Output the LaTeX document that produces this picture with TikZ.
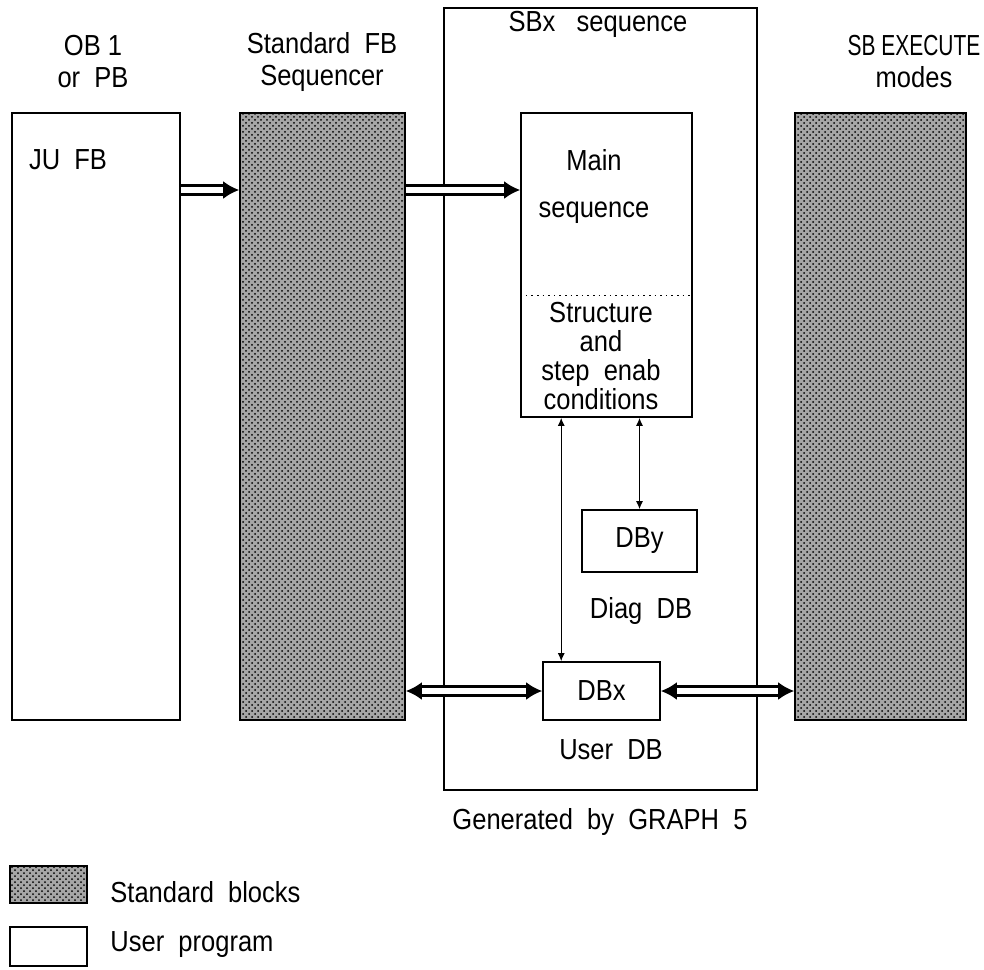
\documentclass[tikz,border=0pt]{standalone}
\usepackage{fontspec}
\setmainfont{Liberation Sans}[FakeStretch=0.88]
\usetikzlibrary{arrows.meta,calc,patterns}

\begin{document}
\begin{tikzpicture}[x=0.5pt,y=-0.5pt,>=Latex,
    font=\fontsize{14.5}{16}\selectfont,
    box/.style={draw,line width=0.8pt,inner sep=0pt},
    stdbox/.style={box,preaction={fill=black!35},pattern=crosshatch dots},
    txt/.style={align=center,inner sep=0pt},
    dbl/.style={double,double distance=2.8pt,line width=1.4pt,
      -{Latex[length=8pt,width=9pt]}},
    dblboth/.style={dbl,{Latex[length=8pt,width=9pt]}-{Latex[length=8pt,width=9pt]}},
    thin/.style={line width=0.6pt,{Latex[length=4pt,width=3.5pt]}-{Latex[length=4pt,width=3.5pt]}}]
  \useasboundingbox (0,0) rectangle (984,969);

  \node[box,minimum width=84pt,minimum height=303.5pt] (ob) at (96,416.5) {};
  \node[stdbox,minimum width=82.5pt,minimum height=303.5pt] (fb) at (322.5,416.5) {};
  \node[stdbox,minimum width=85.5pt,minimum height=303.5pt] (exec) at (880.5,416.5) {};
  \node[box,line width=0.6pt,minimum width=156.5pt,minimum height=391pt] (sbx) at (600.5,399) {};
  \node[box,minimum width=85.5pt,minimum height=152pt] (main) at (606.5,265) {};
  \node[box,minimum width=57.5pt,minimum height=31pt] (dby) at (639.5,541) {DBy};
  \node[box,minimum width=58.5pt,minimum height=29pt] (dbx) at (601.5,691) {DBx};

  \node[txt] (obtxt) at (93,62) {OB 1\\or\ \ PB};
  \node[txt] (fbtxt) at (322,62) {Standard\ \ FB\\Sequencer};
  \node[txt] (exectxt) at (914,62) {\scalebox{0.82}[1]{SB EXECUTE}\\modes};
  \node[txt] (sbxtxt) at (598,24) {SBx\ \ \ sequence};
  \node[txt] (jufb) at (68,160) {JU\ \ FB};
  \node[txt] (maintxt) at (594,160) {Main};
  \node[txt] (seqtxt) at (594,213) {sequence};
  \node[txt,font=\fontsize{14.5}{14.5}\selectfont] (struct) at (601,356)
    {Structure\\and\\step\ \ enab\\conditions};
  \node[txt] (diag) at (641,611) {Diag\ \ DB};
  \node[txt] (user) at (611,750) {User\ \ DB};
  \node[txt] (gen) at (600,822) {Generated\ \ by\ \ GRAPH\ \ 5};

  \draw[dotted,line width=0.8pt] ($(main.north west)!0.6!(main.south west)$)
    -- ($(main.north east)!0.6!(main.south east)$);

  \coordinate (lvl) at (0,190);
  \draw[dbl] (ob.east |- lvl) -- (fb.west |- lvl);
  \draw[dbl] (fb.east |- lvl) -- (main.west |- lvl);
  \draw[dblboth] (fb.east |- dbx.west) -- (dbx.west);
  \draw[dblboth] (dbx.east) -- (exec.west |- dbx.east);
  \draw[thin] (dby.north) -- (dby.north |- main.south);
  \draw[thin] ([xshift=9.5pt]dbx.north west) -- ([xshift=9.5pt]dbx.north west |- main.south);

  \node[stdbox,minimum width=38.5pt,minimum height=18.5pt] (legstd) at (48.5,884.5) {};
  \node[box,minimum width=38.5pt,minimum height=19.5pt] (leguser) at (48.5,946.5) {};
  \node[anchor=west,inner sep=0pt] (legstdtxt) at (110,892) {Standard\ \ blocks};
  \node[anchor=west,inner sep=0pt] (legusertxt) at (110,945) {User\ \ program};
\end{tikzpicture}
\end{document}
